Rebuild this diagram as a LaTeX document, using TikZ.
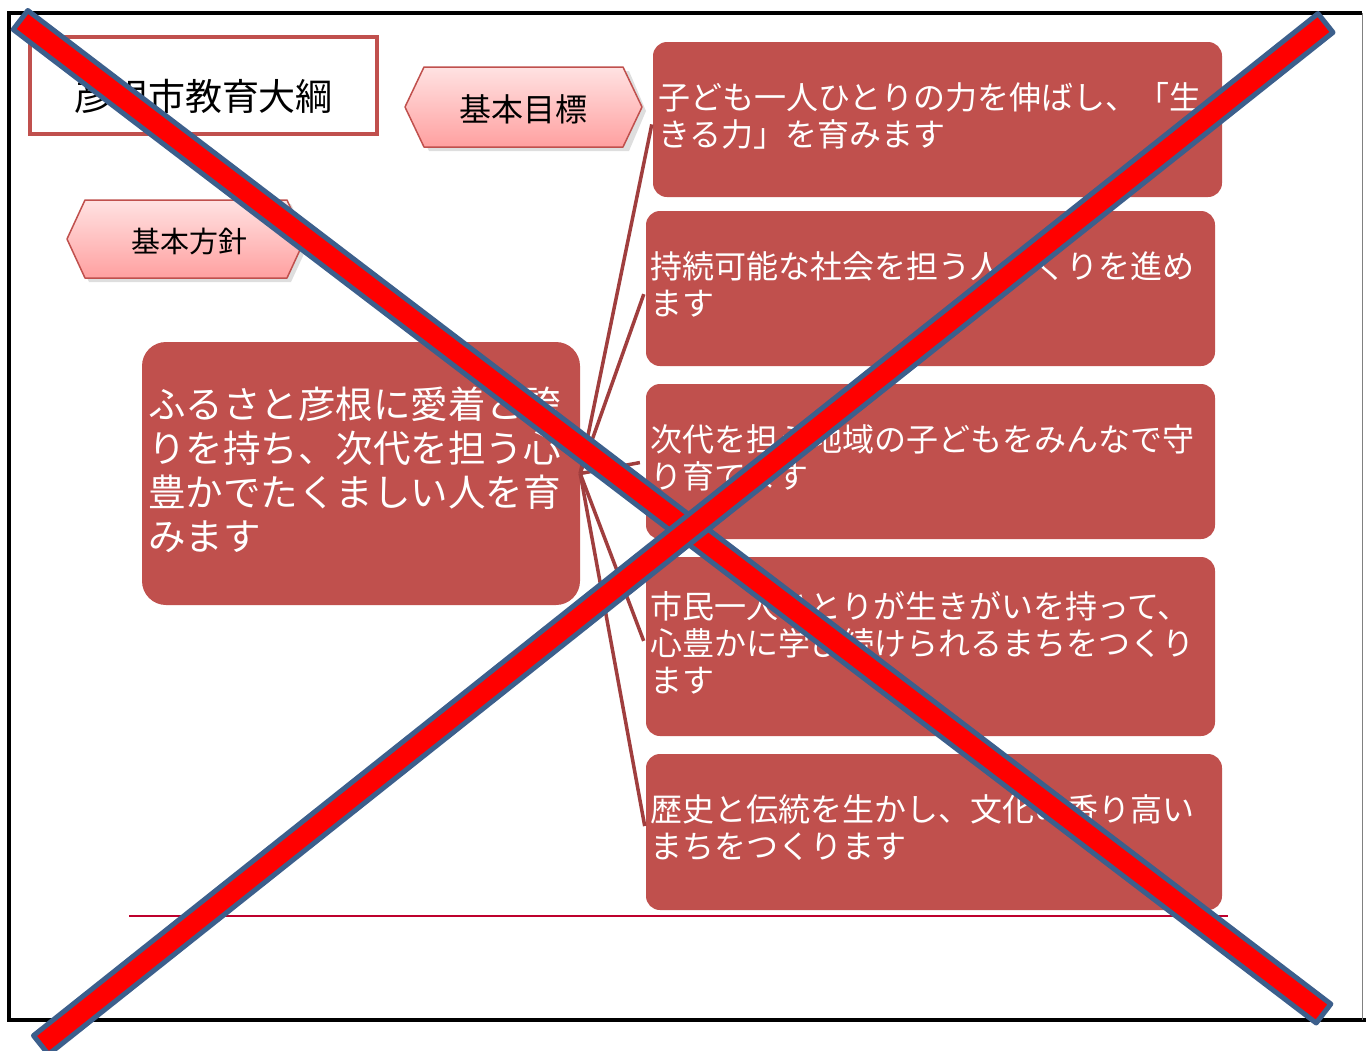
\documentclass[tikz,border=0pt]{standalone}
\usepackage{fontspec}
\setmainfont{Noto Sans CJK JP}
\definecolor{boxred}{RGB}{192,80,77}
\definecolor{connred}{RGB}{160,62,62}
\definecolor{hextop}{RGB}{255,226,226}
\definecolor{hexbot}{RGB}{255,160,160}
\definecolor{xblue}{RGB}{60,95,140}
\definecolor{xred}{RGB}{255,0,0}
\definecolor{rulered}{RGB}{190,0,45}
\newcommand{\lowpad}{\rule[-10pt]{0pt}{1pt}}
\tikzset{
  goalbox/.style={fill=boxred, rounded corners=14pt, text=white, align=left,
    inner xsep=4pt, inner ysep=0pt, minimum height=155pt,
    font=\fontsize{32}{37}\selectfont, anchor=center},
  mainbox/.style={fill=boxred, rounded corners=24pt, text=white, align=left,
    inner xsep=6pt, inner ysep=0pt, font=\fontsize{37.5}{44}\selectfont},
  conn/.style={draw=connred, line width=3.5pt, shorten >=6pt},
  hexshape/.style={top color=hextop, bottom color=hexbot, draw=boxred, line width=1.5pt, line join=round},
  hexshadow/.style={fill=black, opacity=0.13},
  xband/.style={fill=xred, draw=xblue, line width=5pt, line join=round}
}
\begin{document}
\begin{tikzpicture}[x=1pt,y=-1pt]
\useasboundingbox (0,0) rectangle (1366,1050);
\clip (0,0) rectangle (1366,1050);
\fill[white] (0,0) rectangle (1366,1050);

% frame
\draw[line width=4pt] (9,1020) -- (9,13) -- (1362,13);
\draw[line width=4pt] (7,1020) -- (1366,1020);
\draw[gray, line width=1pt] (1362,13) -- (1362,1020);

% title
\node[draw=boxred, line width=4pt, minimum width=347pt, minimum height=97pt, inner sep=0pt] (titlebox) at (203.5,85.5) {};
\node[font=\fontsize{37}{40}\selectfont, inner sep=0pt] (titletext) at (203.5,96) {彦根市教育大綱};

% hexagon labels
\fill[hexshadow] (409,111) -- (429,71) -- (629,71) -- (646,111) -- (629,151) -- (429,151) -- cycle;
\shade[hexshape] (405,107) -- (424,67) -- (623,67) -- (642,107) -- (623,147) -- (424,147) -- cycle;
\node[font=\fontsize{32}{34}\selectfont, inner sep=0pt] (goallabel) at (523.5,109) {基本目標};

\fill[hexshadow] (71,243) -- (89,204) -- (291,204) -- (309,243) -- (291,282) -- (89,282) -- cycle;
\shade[hexshape] (67,239) -- (85,200) -- (287,200) -- (305,239) -- (287,278) -- (85,278) -- cycle;
\node[font=\fontsize{29}{31}\selectfont, inner sep=0pt] (policylabel) at (189,241) {基本方針};

% main policy box
\node[mainbox, text width=426pt, minimum height=263pt] (main) at (361,473.5)
  {ふるさと彦根に愛着と誇\\りを持ち、次代を担う心\\豊かでたくましい人を育\\みます\lowpad};

% goal boxes
\node[goalbox, inner xsep=5pt, text width=559pt] (g1) at (937.5,119.5)
  {子ども一人ひとりの力を伸ばし、「生\\きる力」を育みます\lowpad};
\node[goalbox, text width=561pt] (g2) at (930.5,288.5)
  {持続可能な社会を担う人づくりを進め\\ます\lowpad};
\node[goalbox, text width=561pt] (g3) at (930.5,461.5)
  {次代を担う地域の子どもをみんなで守\\り育てます\lowpad};
\node[goalbox, text width=561pt, minimum height=179pt] (g4) at (930.5,646.5)
  {市民一人ひとりが生きがいを持って、\\心豊かに学び続けられるまちをつくり\\ます\lowpad};
\node[goalbox, text width=568pt, minimum height=156pt] (g5) at (934,832)
  {歴史と伝統を生かし、文化の香り高い\\まちをつくります\lowpad};

% connectors
\draw[conn, shorten >=5pt] (main.east) -- (g1.west);
\draw[conn] (main.east) -- (g2.west);
\draw[conn] (main.east) -- (g3.west);
\draw[conn] (main.east) -- (g4.west);
\draw[conn] (main.east) -- (g5.west);

% bottom rule
\draw[rulered, line width=2pt] (129,915.5) -- (1228,915.5);

% red cross
\draw[xband] (27.8,10.5) -- (1330.8,1004) -- (1316.2,1023) -- (13.2,29.5) -- cycle;
\draw[xband] (1318,13.6) -- (1333,32.4) -- (48.5,1054.4) -- (33.5,1035.6) -- cycle;
\end{tikzpicture}
\end{document}
